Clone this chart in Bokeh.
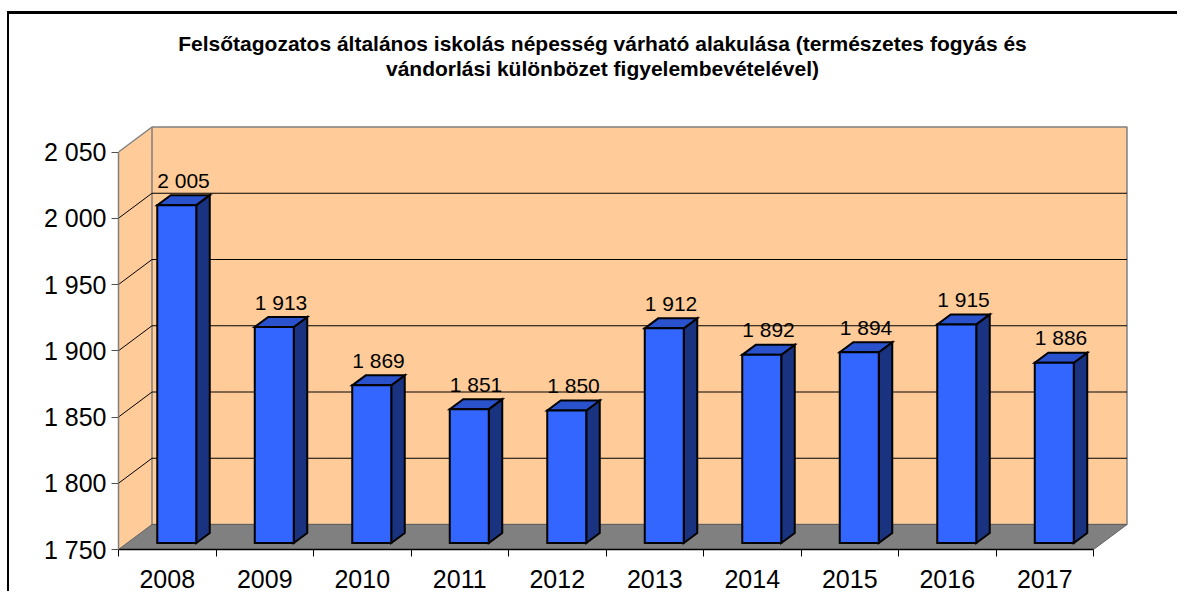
from bokeh.plotting import figure
from bokeh.models import Range1d, FixedTicker
from bokeh.embed import file_html
from bokeh.resources import INLINE
from bokeh.core.properties import value

# ---- data ----
years = ["2008", "2009", "2010", "2011", "2012", "2013", "2014", "2015", "2016", "2017"]
values = [2005, 1913, 1869, 1851, 1850, 1912, 1892, 1894, 1915, 1886]
y_ticks = [1750, 1800, 1850, 1900, 1950, 2000, 2050]
y_tick_labels = ["1 750", "1 800", "1 850", "1 900", "1 950", "2 000", "2 050"]
title_lines = [
    "Felsőtagozatos általános iskolás népesség várható alakulása (természetes fogyás és",
    "vándorlási különbözet figyelembevételével)",
]

# ---- layout constants (pixels) ----
W, H = 1170, 580
ML, MB = 109, 45
SX = 97.5      # px per category
SY = 1.325     # px per value unit
Y0, Y1 = y_ticks[0], y_ticks[-1]
n = len(years)
x_end = (W - ML) / SX
y_end = Y0 + (H - MB) / SY


def dx(px):
    return px / SX


def dy(px):
    return px / SY


BX, BY = dx(33.5), dy(25)   # depth of the back wall
FX, FY = dx(9.5), dy(6.5)   # bar front plane offset
DX, DY = dx(13.5), dy(10)   # bar depth
BW = 0.4                    # bar width (category units)

FONT = "Liberation Sans"
PEACH = "#FFCC99"
WALL_EDGE = "#808080"

p = figure(width=W, height=H, output_backend="svg", toolbar_location=None,
           x_range=Range1d(0, x_end), y_range=Range1d(Y0, y_end),
           min_border_left=ML, min_border_right=0, min_border_top=0,
           min_border_bottom=MB)
p.margin = (11, 0, 0, 7)
p.styles = {"border-left": "2px solid black", "border-top": "3px solid black"}
p.xgrid.visible = False
p.ygrid.visible = False
p.outline_line_color = None
p.background_fill_color = "white"
p.border_fill_color = "white"

# ---- walls ----
p.patch(x=[0, 0, BX, BX], y=[Y0, Y1, Y1 + BY, Y0 + BY], fill_color=PEACH,
        line_color=None)
p.quad(left=[BX], right=[n + BX], bottom=[Y0 + BY], top=[Y1 + BY],
       fill_color=PEACH, line_color=WALL_EDGE, line_width=1.5)
p.segment(x0=[0], y0=[Y1], x1=[BX], y1=[Y1 + BY], line_color=WALL_EDGE, line_width=1.5)
grid_vals = y_ticks[1:-1]
p.segment(x0=[BX] * len(grid_vals), y0=[g + BY for g in grid_vals],
          x1=[n + BX] * len(grid_vals), y1=[g + BY for g in grid_vals],
          line_color="black", line_width=1)
p.segment(x0=[0] * len(grid_vals), y0=grid_vals,
          x1=[BX] * len(grid_vals), y1=[g + BY for g in grid_vals],
          line_color="black", line_width=1)
p.patch(x=[0, n, n + BX, BX], y=[Y0, Y0, Y0 + BY, Y0 + BY], fill_color="#808080",
        line_color="#606060", line_width=1)

# ---- bars ----
L = [i + 0.5 - BW / 2 + FX for i in range(n)]
R = [l + BW for l in L]
B = Y0 + FY
T = [v + FY for v in values]

side_xs = [[r, r, r + DX, r + DX] for r in R]
side_ys = [[B, t, t + DY, B + DY] for t in T]
p.patches(xs=side_xs, ys=side_ys, fill_color="#1A3380", line_color="black",
          line_width=2, line_join="miter")
top_xs = [[l, r, r + DX, l + DX] for l, r in zip(L, R)]
top_ys = [[t, t, t + DY, t + DY] for t in T]
p.patches(xs=top_xs, ys=top_ys, fill_color="#2A52CC", line_color="black",
          line_width=2, line_join="miter")
p.quad(left=L, right=R, bottom=[B] * n, top=T, fill_color="#3366FF",
       line_color="black", line_width=2, line_join="miter")

# data labels
labels = [f"{v:,}".replace(",", " ") for v in values]
p.text(x=[(l + r + DX) / 2 for l, r in zip(L, R)], y=[t + DY + dy(15) for t in T],
       text=labels, text_align="center", text_baseline="alphabetic",
       text_font=value(FONT), text_font_size="21px", text_color="black")

# title
p.text(x=[dx(602 - 118)] * 2, y=[y_end - dy(29), y_end - dy(54)], text=title_lines,
       text_align="center", text_baseline="alphabetic", text_font=value(FONT),
       text_font_style="bold", text_font_size="21px", text_color="black")

# ---- axes ----
ya = p.yaxis[0]
ya.ticker = FixedTicker(ticks=y_ticks, minor_ticks=[])
ya.major_label_overrides = {t: s for t, s in zip(y_ticks, y_tick_labels)}
ya.bounds = (Y0, Y1)
ya.axis_line_color = WALL_EDGE
ya.axis_line_width = 1.5
ya.major_tick_line_color = "#505050"
ya.major_tick_out = 7
ya.major_tick_in = 0
ya.minor_tick_line_color = None
ya.major_label_standoff = 5
ya.major_label_text_font = FONT
ya.major_label_text_font_size = "25px"
ya.major_label_text_color = "black"

xa = p.xaxis[0]
centers = [i + 0.5 for i in range(n)]
xa.ticker = FixedTicker(ticks=centers, minor_ticks=list(range(n + 1)))
xa.major_label_overrides = {c: y for c, y in zip(centers, years)}
xa.bounds = (0, n)
xa.axis_line_color = "black"
xa.axis_line_width = 1.5
xa.major_tick_line_color = None
xa.major_tick_out = 0
xa.major_tick_in = 0
xa.minor_tick_line_color = "black"
xa.minor_tick_out = 7
xa.minor_tick_in = 0
xa.major_label_standoff = 13
xa.major_label_text_font = FONT
xa.major_label_text_font_size = "25px"
xa.major_label_text_color = "black"

open("out.html", "w").write(file_html(p, INLINE))
